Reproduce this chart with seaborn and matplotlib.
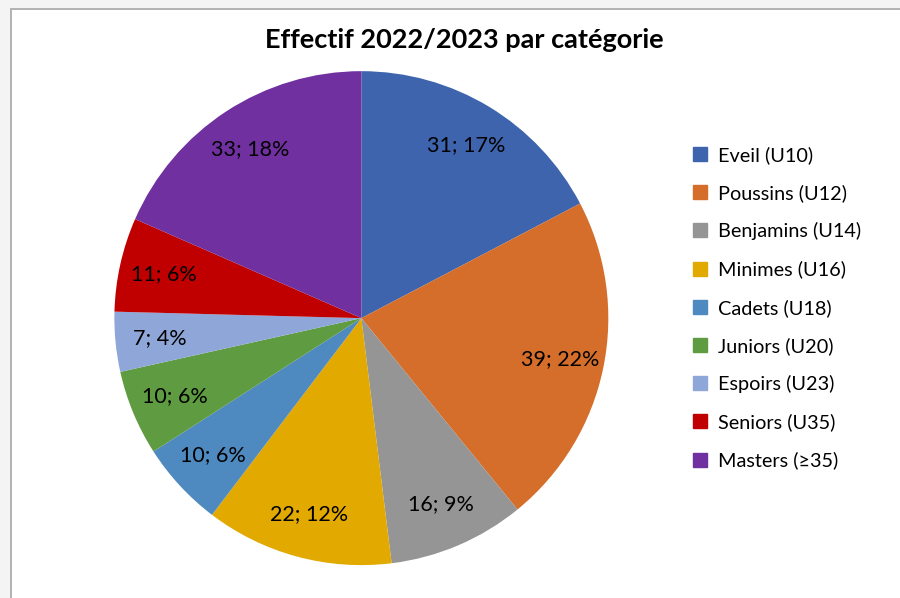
import matplotlib
matplotlib.use("Agg")
import matplotlib.pyplot as plt
import seaborn as sns
from matplotlib.patches import Rectangle
from matplotlib.lines import Line2D

categories = ['Eveil (U10)', 'Poussins (U12)', 'Benjamins (U14)', 'Minimes (U16)',
              'Cadets (U18)', 'Juniors (U20)', 'Espoirs (U23)', 'Seniors (U35)',
              'Masters (≥35)']
effectifs = [31, 39, 16, 22, 10, 10, 7, 11, 33]
colors = ['#3D64AD', '#D46E2A', '#959595', '#E2AA00', '#4E89C0',
          '#5F9B40', '#8EA6D8', '#C00000', '#7030A0']

sns.set_theme(style='white')
plt.rcParams['font.family'] = ['Lato', 'DejaVu Sans']
plt.rcParams['text.color'] = 'black'

fig = plt.figure(figsize=(9, 5.98), dpi=100)
fig.patch.set_facecolor('#f4f4f4')
fig.patches.append(Rectangle((11 / 900, -0.01), 1.0, 1 - 9 / 598 + 0.01,
                             transform=fig.transFigure, facecolor='white',
                             edgecolor='#a6a6a6', linewidth=1.2, zorder=-5))

ax = fig.add_axes([0.127, 0.055, 0.549, 0.826])
ax.set_facecolor('none')
total = sum(effectifs)


def fmt(pct):
    n = int(round(pct * total / 100))
    return f'{n}; {pct:.0f}%'


wedges, texts, autotexts = ax.pie(effectifs, colors=colors, startangle=90,
                                  counterclock=False, autopct=fmt,
                                  pctdistance=0.82, radius=1.0,
                                  wedgeprops={'linewidth': 0},
                                  textprops={'fontsize': 15.5, 'color': 'black'})
ax.set_xlim(-1, 1)
ax.set_ylim(-1, 1)
ax.set_aspect('equal')

fig.text(464 / 900, 1 - 40 / 598, 'Effectif 2022/2023 par catégorie',
         ha='center', va='center', fontsize=19.5, fontweight='bold',
         color='black')

handles = [Line2D([0], [0], marker='s', linestyle='', markersize=10,
                  markerfacecolor=c, markeredgecolor=c) for c in colors]
fig.legend(handles, categories, loc='upper left',
           bbox_to_anchor=(690 / 900, 1 - 146 / 598), frameon=False,
           fontsize=14.3, handlelength=1.0, handletextpad=0.4,
           labelspacing=1.02, borderpad=0, borderaxespad=0,
           labelcolor='black')

fig.savefig('out.png', dpi=100, facecolor=fig.get_facecolor())
